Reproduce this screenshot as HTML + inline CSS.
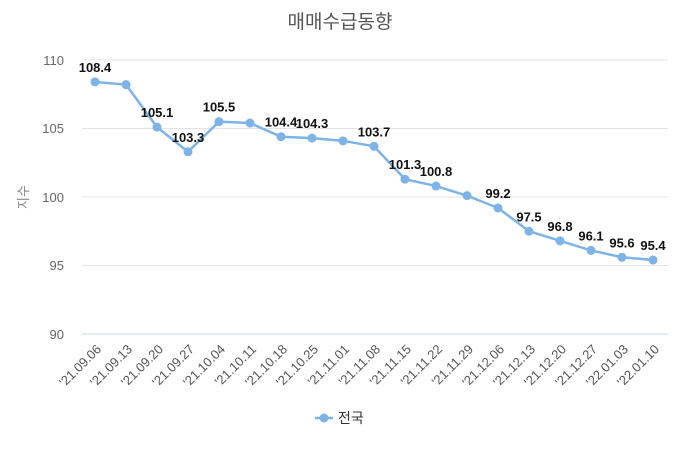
<!DOCTYPE html>
<html><head><meta charset="utf-8"><style>
body{margin:0;background:#fff}
svg{display:block;font-family:"Liberation Sans","Noto Sans CJK KR",sans-serif}
</style></head><body>
<svg width="680" height="453" viewBox="0 0 680 453">
<text x="340" y="28" text-anchor="middle" font-size="19" fill="#555">매매수급동향</text>
<g stroke="#e4e4e4" stroke-width="1">
<line x1="82" y1="60" x2="668" y2="60"/>
<line x1="82" y1="128.5" x2="668" y2="128.5"/>
<line x1="82" y1="197" x2="668" y2="197"/>
<line x1="82" y1="265.5" x2="668" y2="265.5"/>
</g>
<line x1="82" y1="334" x2="668" y2="334" stroke="#c6d4ee" stroke-width="1"/>
<g font-size="13" fill="#666" text-anchor="end">
<text x="64" y="65">110</text><text x="64" y="133">105</text><text x="64" y="202">100</text><text x="64" y="270">95</text><text x="64" y="339">90</text>
</g>
<text transform="translate(28,197) rotate(-90)" text-anchor="middle" font-size="13" fill="#888">지수</text>
<g id="lbl" font-size="13" fill="#555" text-anchor="end"></g>
<polyline id="ln" fill="none" stroke="#7eb3e8" stroke-width="2.5"/>
<g id="pts" fill="#7eb3e8"></g>
<g id="vals" font-size="13" font-weight="bold" fill="#111" text-anchor="middle"></g>
<line x1="315" y1="418" x2="333" y2="418" stroke="#7eb3e8" stroke-width="2.5"/>
<circle cx="324" cy="418" r="4.5" fill="#7eb3e8"/>
<text x="338" y="423" font-size="14" fill="#333">전국</text>
</svg>
<script>
var v=[108.4,108.2,105.1,103.3,105.5,105.4,104.4,104.3,104.1,103.7,101.3,100.8,100.1,99.2,97.5,96.8,96.1,95.6,95.4];
var show=[1,0,1,1,1,0,1,1,0,1,1,1,0,1,1,1,1,1,1];
var d=['21.09.06','21.09.13','21.09.20','21.09.27','21.10.04','21.10.11','21.10.18','21.10.25','21.11.01','21.11.08','21.11.15','21.11.22','21.11.29','21.12.06','21.12.13','21.12.20','21.12.27','22.01.03','22.01.10'];
var ns='http://www.w3.org/2000/svg',pts=[];
function el(t,a,p,txt){var e=document.createElementNS(ns,t);for(var k in a)e.setAttribute(k,a[k]);if(txt)e.textContent=txt;document.getElementById(p).appendChild(e);}
v.forEach(function(y,i){var x=95+i*31,yy=60+(110-y)*13.7;pts.push(x+','+yy);
el('circle',{cx:x,cy:yy,r:4.5},'pts');
if(show[i])el('text',{x:x,y:yy-10},'vals',y.toFixed(1));
el('text',{x:x+7,y:350,transform:'rotate(-45 '+(x+7)+' 350)'},'lbl',"'"+d[i]);});
document.getElementById('ln').setAttribute('points',pts.join(' '));
</script>
</body></html>
